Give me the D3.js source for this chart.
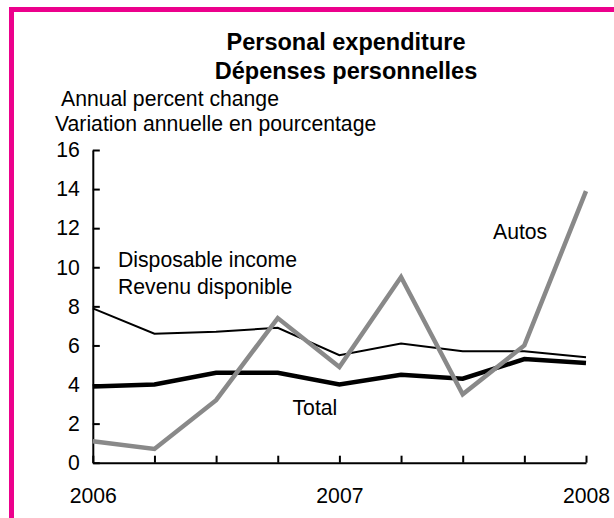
<!DOCTYPE html>
<html>
<head>
<meta charset="utf-8">
<script src="https://cdn.jsdelivr.net/npm/d3@7/dist/d3.min.js"></script>
<style>
  html, body { margin: 0; padding: 0; background: #fff; }
  svg { display: block; font-family: "Liberation Sans", Arial, sans-serif; }
</style>
</head>
<body>
<svg id="chart" width="614" height="518"></svg>
<script>
// Quarterly observations, 2006 Q1 through 2008 Q1
const quarters = ["2006Q1","2006Q2","2006Q3","2006Q4","2007Q1","2007Q2","2007Q3","2007Q4","2008Q1"];
const yearLabels = ["2006", "", "", "", "2007", "", "", "", "2008"];
const disposableIncome = [7.9, 6.6, 6.7, 6.9, 5.5, 6.1, 5.7, 5.7, 5.4];
const totalSpending    = [3.9, 4.0, 4.6, 4.6, 4.0, 4.5, 4.3, 5.3, 5.1];
const autos            = [1.1, 0.7, 3.2, 7.4, 4.9, 9.5, 3.5, 6.0, 13.9];
const yTicks = [0, 2, 4, 6, 8, 10, 12, 14, 16];

const svg = d3.select("#chart");
const W = 614, H = 518;

// Frame: magenta rule on the top and left edges
svg.append("rect").attr("x", 9).attr("y", 7).attr("width", W - 9).attr("height", 5).attr("fill", "#ec008c");
svg.append("rect").attr("x", 9).attr("y", 7).attr("width", 5).attr("height", H - 7).attr("fill", "#ec008c");

const x = d3.scaleLinear().domain([0, quarters.length - 1]).range([92.8, 586]);
const y = d3.scaleLinear().domain([0, 16]).range([462.7, 150]);

const fs = "21.2px";

// Titles
svg.append("text").attr("x", 346).attr("y", 50).attr("text-anchor", "middle")
  .attr("font-weight", "bold").attr("font-size", "23.5px").text("Personal expenditure");
svg.append("text").attr("x", 346).attr("y", 79).attr("text-anchor", "middle")
  .attr("font-weight", "bold").attr("font-size", "23.5px").text("Dépenses personnelles");
svg.append("text").attr("x", 61).attr("y", 106).attr("font-size", fs).text("Annual percent change");
svg.append("text").attr("x", 55).attr("y", 131).attr("font-size", fs).text("Variation annuelle en pourcentage");

// Axes
const yAxis = d3.axisLeft(y).tickValues(yTicks).tickSize(-7).tickSizeOuter(0).tickPadding(13);
const xAxis = d3.axisBottom(x).tickValues(d3.range(quarters.length))
  .tickFormat(i => yearLabels[i]).tickSize(-7).tickSizeOuter(0).tickPadding(25);

const gy = svg.append("g").attr("transform", `translate(${x(0)},0)`).call(yAxis);
const gx = svg.append("g").attr("transform", `translate(0,${y(0)})`).call(xAxis);
[gx, gy].forEach(g => {
  g.selectAll("path.domain").attr("stroke", "#000").attr("stroke-width", 2);
  g.selectAll(".tick line").attr("stroke", "#000").attr("stroke-width", 2);
  g.selectAll(".tick text").attr("fill", "#000").attr("font-size", fs)
    .attr("font-family", "'Liberation Sans', Arial, sans-serif");
});

// Series lines
const line = d3.line().x((d, i) => x(i)).y(d => y(d));
svg.append("path").datum(disposableIncome).attr("d", line)
  .attr("fill", "none").attr("stroke", "#000").attr("stroke-width", 2);
svg.append("path").datum(totalSpending).attr("d", line)
  .attr("fill", "none").attr("stroke", "#000").attr("stroke-width", 4.5);
svg.append("path").datum(autos).attr("d", line)
  .attr("fill", "none").attr("stroke", "#898989").attr("stroke-width", 4.5);

// Series labels
svg.append("text").attr("x", 118).attr("y", 267).attr("font-size", fs).text("Disposable income");
svg.append("text").attr("x", 118).attr("y", 294).attr("font-size", fs).text("Revenu disponible");
svg.append("text").attr("x", 292.5).attr("y", 415).attr("font-size", fs).text("Total");
svg.append("text").attr("x", 493).attr("y", 239).attr("font-size", fs).text("Autos");
</script>
</body>
</html>
